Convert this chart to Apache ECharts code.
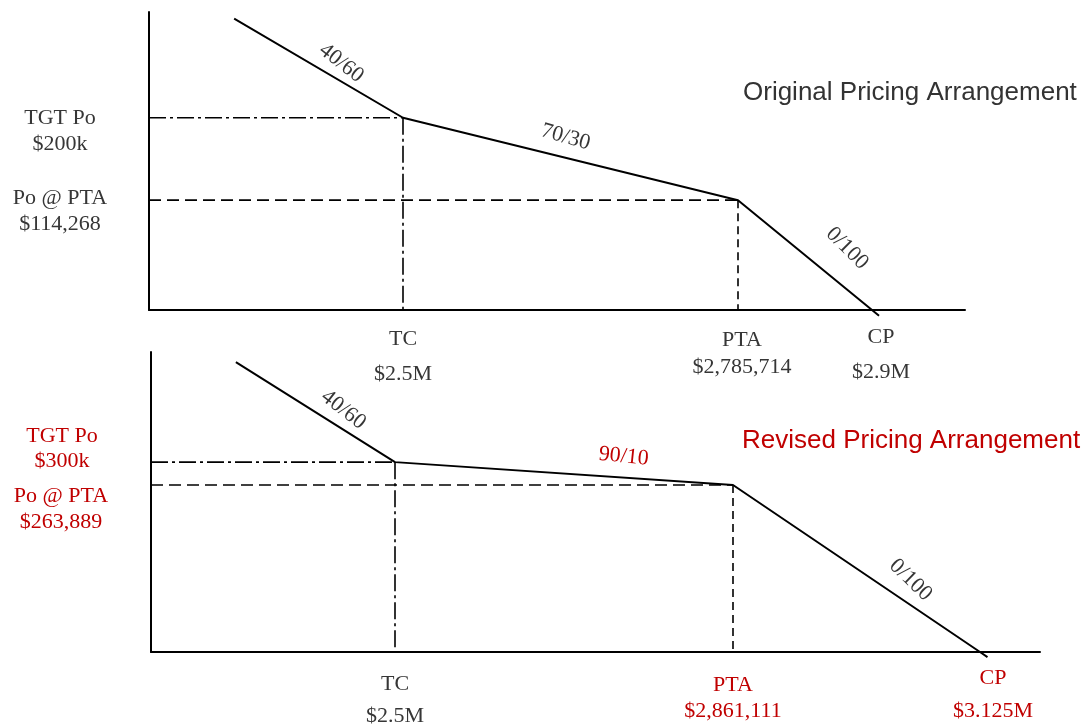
<!DOCTYPE html>
<html>
<head>
<meta charset="utf-8">
<title>Original vs Revised Pricing Arrangement</title>
<script src="https://cdn.jsdelivr.net/npm/echarts@6/dist/echarts.min.js"></script>
<style>
  html, body { margin: 0; padding: 0; background: #ffffff; }
  #chart { width: 1084px; height: 728px; }
</style>
</head>
<body>
<div id="chart"></div>
<script>
// ---- Original pricing arrangement (cost in $, fee in $) ----
const origCost = [2356000, 2500000, 2785714, 2900000, 2906000];
const origFee = [303000, 200000, 114268, 0, -6000];
const origShares = ['40/60', '70/30', '0/100'];
const origFeeLabels = [['TGT Po', '$200k'], ['Po @ PTA', '$114,268']];
const origCostLabels = [['TC', '$2.5M'], ['PTA', '$2,785,714'], ['CP', '$2.9M']];
const origTitle = 'Original Pricing Arrangement';

// ---- Revised pricing arrangement ----
const revCost = [2330000, 2500000, 2861111, 3125000, 3133000];
const revFee = [458000, 300000, 263889, 0, -8000];
const revShares = ['40/60', '90/10', '0/100'];
const revFeeLabels = [['TGT Po', '$300k'], ['Po @ PTA', '$263,889']];
const revCostLabels = [['TC', '$2.5M'], ['PTA', '$2,861,111'], ['CP', '$3.125M']];
const revTitle = 'Revised Pricing Arrangement';

const GREY = '#363636';
const RED = '#c00000';
const SERIF = "'Liberation Serif', 'Times New Roman', serif";
const SANS = "'Liberation Sans', Arial, sans-serif";
const DASH_DOT = [17, 4, 3, 4];
const DASH = [12, 6];
const SHORT_DASH = [8, 5];

// panel layout: axis ranges and label placement
// (share labels: t = position along the segment, dy = distance above it)
const panels = [
  {
    cost: origCost, fee: origFee, shares: origShares,
    feeLabels: origFeeLabels, costLabels: origCostLabels,
    grid: { left: 149, top: 12, width: 816, height: 298 },
    xMin: 2283369, xMax: 2979318, yMax: 310000,
    feeStyle: [
      { dx: -89, dy: -13, lh: 26, color: GREY },
      { dx: -89, dy: -15, lh: 26, color: GREY }
    ],
    costStyle: [
      { dx: 0, dy: 12, lh: 35, color: GREY },
      { dx: 4, dy: 17, lh: 27, color: GREY },
      { dx: 9, dy: 10, lh: 35, color: GREY }
    ],
    shareStyle: [
      { t: 0.576, dx: 0, dy: -16, rot: -38, color: GREY },
      { t: 0.469, dx: 0, dy: -20, rot: -16, color: GREY },
      { t: 0.645, dx: 0, dy: -32, rot: -45, color: GREY }
    ]
  },
  {
    cost: revCost, fee: revFee, shares: revShares,
    feeLabels: revFeeLabels, costLabels: revCostLabels,
    grid: { left: 151, top: 352, width: 889, height: 300 },
    xMin: 2239316, xMax: 3189103, yMax: 474000,
    feeStyle: [
      { dx: -89, dy: -38, lh: 25, color: RED },
      { dx: -90, dy: -2, lh: 26, color: RED }
    ],
    costStyle: [
      { dx: 0, dy: 16, lh: 32, color: GREY },
      { dx: 0, dy: 20, lh: 26, color: RED },
      { dx: 13, dy: 10, lh: 33, color: RED }
    ],
    shareStyle: [
      { t: 0.61, dx: 0, dy: -17, rot: -38, color: GREY },
      { t: 0.67, dx: 0, dy: -21, rot: -6, color: RED },
      { t: 0.66, dx: 0, dy: -21, rot: -44, color: GREY }
    ]
  }
];

function along(cost, fee, i, t) {
  return [cost[i] + (cost[i + 1] - cost[i]) * t, fee[i] + (fee[i + 1] - fee[i]) * t];
}

function textLabel(text, st, extra) {
  return Object.assign({
    show: true,
    position: 'inside',
    formatter: text,
    fontFamily: SERIF,
    fontSize: 22,
    color: st.color,
    textBorderWidth: 0,
    textBorderColor: 'transparent',
    opacity: 1,
    align: 'center',
    verticalAlign: 'top',
    lineHeight: st.lh || 26,
    offset: [st.dx, st.dy]
  }, extra || {});
}

const grids = [], xAxes = [], yAxes = [], series = [];

panels.forEach((p, k) => {
  grids.push(Object.assign({ containLabel: false }, p.grid));
  const axisLine = { show: true, onZero: false, lineStyle: { color: '#000', width: 2 } };
  xAxes.push({
    type: 'value', gridIndex: k, min: p.xMin, max: p.xMax,
    axisLine: axisLine, axisTick: { show: false }, axisLabel: { show: false }, splitLine: { show: false }
  });
  yAxes.push({
    type: 'value', gridIndex: k, min: 0, max: p.yMax,
    axisLine: axisLine, axisTick: { show: false }, axisLabel: { show: false }, splitLine: { show: false }
  });

  const c = p.cost, f = p.fee;
  const ref = (data, dash, w) => ({
    type: 'line', xAxisIndex: k, yAxisIndex: k, data: data, symbol: 'none', silent: true,
    clip: false, z: 2,
    lineStyle: { color: '#000', width: w || 1.6, type: dash }
  });
  // target cost / target fee (dash-dot)
  series.push(ref([[p.xMin, f[1]], [c[1], f[1]]], DASH_DOT));
  series.push(ref([[c[1], f[1]], [c[1], 0]], DASH_DOT));
  // point of total assumption (dashed)
  series.push(ref([[p.xMin, f[2]], [c[2], f[2]]], DASH));
  series.push(ref([[c[2], f[2]], [c[2], 0]], SHORT_DASH));

  // fee curve
  series.push({
    type: 'line', xAxisIndex: k, yAxisIndex: k, symbol: 'none', silent: true, clip: false, z: 3,
    data: c.map((v, i) => [v, f[i]]),
    lineStyle: { color: '#000', width: 2 }
  });

  const labelSeries = (data) => ({
    type: 'scatter', xAxisIndex: k, yAxisIndex: k, symbolSize: 0, silent: true, clip: false,
    itemStyle: { color: 'transparent', opacity: 1 },
    emphasis: { disabled: true },
    data: data
  });

  // fee labels on the y side
  series.push(labelSeries(p.feeLabels.map((lab, i) => ({
    value: [p.xMin, f[i + 1]],
    label: textLabel(lab.join('\n'), p.feeStyle[i])
  }))));

  // cost labels below the x axis
  series.push(labelSeries(p.costLabels.map((lab, i) => ({
    value: [c[i + 1], 0],
    label: textLabel(lab.join('\n'), p.costStyle[i])
  }))));

  // sharing ratio labels along each segment
  series.push(labelSeries(p.shares.map((s, i) => {
    const st = p.shareStyle[i];
    return {
      value: along(c, f, i, st.t),
      label: textLabel(s, st, { verticalAlign: 'middle', rotate: st.rot })
    };
  })));
});

const chart = echarts.init(document.getElementById('chart'), null, { renderer: 'canvas' });
chart.setOption({
  animation: false,
  backgroundColor: '#ffffff',
  title: [
    {
      text: origTitle, left: 743, top: 80, padding: 0,
      textStyle: { fontFamily: SANS, fontSize: 26, fontWeight: 'normal', color: '#333333' }
    },
    {
      text: revTitle, left: 742, top: 428, padding: 0,
      textStyle: { fontFamily: SANS, fontSize: 26, fontWeight: 'normal', color: RED }
    }
  ],
  grid: grids,
  xAxis: xAxes,
  yAxis: yAxes,
  series: series
});
</script>
</body>
</html>
